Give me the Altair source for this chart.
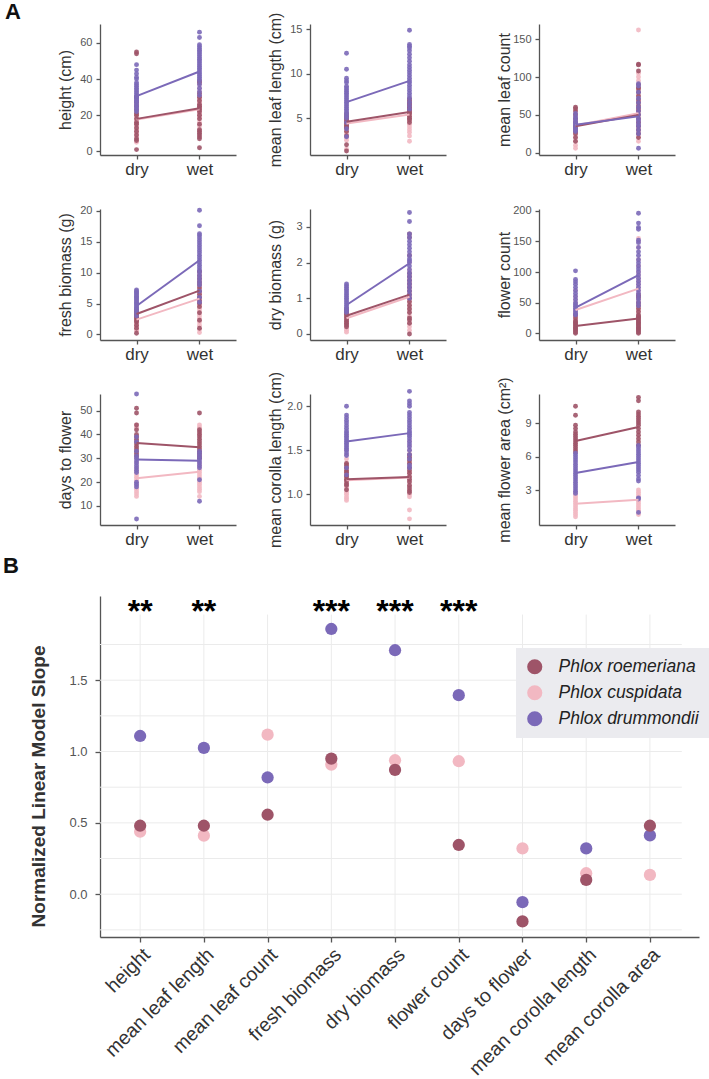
import altair as alt
import pandas as pd

SPECIES = ["Phlox roemeriana", "Phlox cuspidata", "Phlox drummondii"]
COLORS = ["#9e5468", "#f2b8c2", "#7b69b8"]
CONDITIONS = ["dry", "wet"]
POINT_Z = [1, 0, 2]

HEIGHT_ROE_DRY = [55, 54, 30, 27, 25, 23, 21, 20, 18, 16, 15, 13, 11, 9, 7, 6, 1]
HEIGHT_ROE_WET = [39, 38, 32, 30, 28, 26, 25, 24, 23, 22, 20, 18, 15, 12, 11, 10, 9, 8, 7, 2]
HEIGHT_CUS_DRY = [30, 28, 26, 24, 22, 20, 19, 18, 17, 16, 15, 14, 13, 12, 11, 10, 9, 8, 6, 5]
HEIGHT_CUS_WET = [37, 35, 33, 31, 30, 29, 28, 27, 26, 25, 24, 23, 22, 21, 20, 19, 18, 16, 14, 12]
HEIGHT_DRU_DRY = [48, 45, 43, 41, 40, 38, 37, 36, 35, 34, 33, 32, 31, 30, 30, 29, 28, 28, 27, 26, 25, 24, 23, 22]
HEIGHT_DRU_WET = [66, 63, 59, 58, 57, 56, 55, 54, 53, 52, 51, 50, 49, 48, 47, 46, 45, 44, 43, 42, 41, 40, 39, 37, 35, 33, 31]
HEIGHT_MEANS = [18.0, 23.9, 17.6, 23.3, 30.6, 44.2]

LEAFLEN_ROE_DRY = [5.5, 5.2, 5.0, 4.8, 4.6, 4.4, 4.2, 4.0, 3.9, 3.5, 3.0, 2.0, 1.3]
LEAFLEN_ROE_WET = [7.2, 7.0, 6.8, 6.6, 6.4, 6.2, 6.0, 5.8, 5.6, 5.5, 5.2, 5.0, 4.8, 4.5]
LEAFLEN_CUS_DRY = [5.3, 5.0, 4.8, 4.6, 4.5, 4.4, 4.3, 4.2, 4.0, 3.8, 3.5, 3.2, 2.8, 2.5, 1.5]
LEAFLEN_CUS_WET = [6.5, 6.2, 6.0, 5.8, 5.6, 5.4, 5.3, 5.2, 5.0, 4.8, 4.6, 4.3, 4.0, 3.7, 3.4, 3.0, 2.4]
LEAFLEN_DRU_DRY = [12.3, 10.5, 9.5, 9.2, 9.0, 8.6, 8.4, 8.2, 8.0, 7.8, 7.6, 7.4, 7.2, 7.0, 6.8, 6.6, 6.4, 6.2, 6.0, 5.8, 5.6, 5.4, 5.2, 5.0, 4.5, 3.8, 2.9]
LEAFLEN_DRU_WET = [14.9, 13.3, 13.1, 12.9, 12.6, 12.2, 11.8, 11.4, 11.0, 10.7, 10.4, 10.1, 9.8, 9.5, 9.2, 9.0, 8.7, 8.4, 8.1, 7.8, 7.5, 7.2, 6.8, 6.4, 6.0]
LEAFLEN_MEANS = [4.6, 5.7, 4.4, 5.4, 6.8, 9.2]

LEAFCNT_ROE_DRY = [60, 58, 55, 50, 45, 40, 35, 32, 28, 25, 20, 15]
LEAFCNT_ROE_WET = [117, 116, 108, 90, 86, 84, 80, 75, 70, 66, 62, 58, 55, 50, 45, 40, 35, 30, 25, 20]
LEAFCNT_CUS_DRY = [55, 50, 45, 42, 38, 35, 32, 30, 27, 24, 20, 15, 10, 6]
LEAFCNT_CUS_WET = [162, 105, 100, 95, 85, 75, 68, 60, 55, 50, 45, 40, 35, 30, 25, 20, 15]
LEAFCNT_DRU_DRY = [52, 48, 45, 42, 40, 38, 36, 34, 32, 30, 28]
LEAFCNT_DRU_WET = [91, 88, 80, 72, 66, 60, 55, 50, 45, 42, 38, 35, 30, 25, 6]
LEAFCNT_MEANS = [35, 50, 36, 52, 37, 48]

FRESH_ROE_DRY = [4.0, 3.7, 3.5, 3.2, 3.0, 2.7, 2.5, 2.2, 2.0, 1.5, 1.0, 0.2]
FRESH_ROE_WET = [10.2, 9.5, 9.0, 8.5, 8.0, 7.5, 7.0, 6.5, 6.0, 5.5, 5.0, 4.5, 3.5, 2.3, 1.0]
FRESH_CUS_DRY = [3.5, 3.2, 3.0, 2.8, 2.6, 2.4, 2.2, 2.0, 1.8, 1.6, 1.4, 1.2, 1.0, 0.8, 0.6]
FRESH_CUS_WET = [10.0, 9.0, 8.3, 7.6, 7.0, 6.5, 6.0, 5.6, 5.2, 4.8, 4.4, 4.0, 3.5, 3.0, 2.5, 2.0, 1.5, 0.8, 0.3]
FRESH_DRU_DRY = [7.2, 7.0, 6.8, 6.6, 6.4, 6.2, 6.0, 5.8, 5.6, 5.4, 5.2, 5.0, 4.8, 4.6, 4.4, 4.2, 4.0, 3.7, 3.4, 3.0]
FRESH_DRU_WET = [20.1, 17.6, 16.3, 16.0, 15.6, 15.2, 14.8, 14.4, 14.0, 13.6, 13.2, 12.8, 12.4, 12.0, 11.6, 11.2, 10.8, 10.4, 10.0, 9.5, 9.0, 8.5, 8.0, 7.0, 6.0, 5.2]
FRESH_MEANS = [3.3, 7.1, 2.4, 5.8, 4.6, 12.0]

DRYB_ROE_DRY = [0.7, 0.65, 0.6, 0.55, 0.5, 0.45, 0.4, 0.35, 0.3, 0.25, 0.2]
DRYB_ROE_WET = [2.8, 2.7, 2.2, 1.7, 1.6, 1.5, 1.4, 1.3, 1.2, 1.1, 1.0, 0.9, 0.8, 0.7, 0.6, 0.45, 0.4, 0.3, 0.0]
DRYB_CUS_DRY = [0.65, 0.6, 0.55, 0.5, 0.45, 0.4, 0.35, 0.3, 0.25, 0.2, 0.15, 0.1, 0.05]
DRYB_CUS_WET = [2.0, 1.8, 1.6, 1.5, 1.4, 1.3, 1.2, 1.1, 1.0, 0.9, 0.8, 0.7, 0.6, 0.5, 0.4, 0.3, 0.2, 0.1]
DRYB_DRU_DRY = [1.4, 1.35, 1.3, 1.25, 1.2, 1.15, 1.1, 1.05, 1.0, 0.95, 0.9, 0.85, 0.8, 0.75, 0.7, 0.65, 0.6]
DRYB_DRU_WET = [3.4, 3.15, 2.8, 2.7, 2.6, 2.5, 2.4, 2.3, 2.2, 2.1, 2.05, 2.0, 1.9, 1.8, 1.7, 1.6, 1.5, 1.4, 1.3, 1.2, 1.1, 1.0]
DRYB_MEANS = [0.51, 1.10, 0.44, 1.04, 0.81, 1.98]

FLOWER_ROE_DRY = [30, 25, 20, 18, 16, 14, 12, 10, 8, 6, 4, 2, 0]
FLOWER_ROE_WET = [62, 58, 50, 45, 40, 35, 30, 28, 26, 24, 22, 20, 18, 16, 14, 12, 10, 8, 6, 4, 2, 0]
FLOWER_CUS_DRY = [70, 60, 55, 50, 45, 40, 38, 35, 32, 30, 28, 25, 22, 20]
FLOWER_CUS_WET = [155, 150, 140, 120, 110, 100, 95, 90, 85, 80, 75, 70, 65, 60, 55, 50, 45, 40, 35]
FLOWER_DRU_DRY = [102, 88, 84, 80, 75, 70, 65, 60, 55, 50, 47, 44, 41, 38, 35, 32, 30]
FLOWER_DRU_WET = [196, 180, 173, 170, 152, 148, 140, 133, 127, 120, 115, 110, 105, 100, 95, 90, 85, 80, 75, 70, 65, 60, 55, 50, 45]
FLOWER_MEANS = [12, 24, 38, 73, 42, 95]

DAYS_ROE_DRY = [51, 49, 44, 42, 40, 39, 38, 37, 36, 35, 34, 33, 32, 31]
DAYS_ROE_WET = [49, 42, 41, 40, 39, 38, 37, 36, 35, 34, 33, 32, 31, 30]
DAYS_CUS_DRY = [44, 43, 30, 28, 26, 25, 24, 23, 22, 21, 20, 19, 18, 17, 16, 15, 14]
DAYS_CUS_WET = [44, 43, 42, 40, 30, 28, 27, 26, 25, 24, 23, 22, 21, 20, 19, 18, 17, 16, 14]
DAYS_DRU_DRY = [57, 39, 37, 33, 31, 30, 29, 28, 27, 26, 25, 24, 20, 19, 18, 4.5]
DAYS_DRU_WET = [33, 32, 31, 30, 29, 28, 27, 26, 21, 12]
DAYS_MEANS = [36.4, 34.6, 21.6, 24.4, 29.5, 29.0]

COROLLA_ROE_DRY = [1.35, 1.33, 1.3, 1.27, 1.25, 1.22, 1.2, 1.17, 1.15, 1.12, 1.1, 1.05]
COROLLA_ROE_WET = [1.45, 1.42, 1.38, 1.35, 1.3, 1.27, 1.24, 1.2, 1.17, 1.14, 1.1, 1.07, 1.04, 1.02]
COROLLA_CUS_DRY = [1.5, 1.45, 1.4, 1.35, 1.3, 1.25, 1.2, 1.17, 1.15, 1.12, 1.1, 1.07, 1.05, 1.02, 1.0, 0.97, 0.95, 0.93]
COROLLA_CUS_WET = [1.6, 1.55, 1.5, 1.45, 1.4, 1.35, 1.3, 1.25, 1.2, 1.15, 1.1, 1.05, 1.0, 0.97, 0.82, 0.72]
COROLLA_DRU_DRY = [2.0, 1.9, 1.87, 1.84, 1.81, 1.78, 1.75, 1.72, 1.7, 1.68, 1.66, 1.64, 1.62, 1.6, 1.58, 1.56, 1.54, 1.52, 1.5, 1.47, 1.44, 1.3, 1.22]
COROLLA_DRU_WET = [2.17, 2.06, 2.03, 2.0, 1.93, 1.9, 1.87, 1.84, 1.81, 1.78, 1.75, 1.72, 1.7, 1.68, 1.66, 1.63, 1.6, 1.57, 1.54, 1.5, 1.45, 1.4, 1.33, 1.3]
COROLLA_MEANS = [1.17, 1.195, 1.16, 1.19, 1.60, 1.695]

AREA_ROE_DRY = [10.5, 9.7, 8.8, 8.5, 8.2, 8.0, 7.8, 7.6, 7.4, 7.2, 7.0, 6.8, 6.6, 6.4]
AREA_ROE_WET = [11.3, 11.0, 10.0, 9.8, 9.6, 9.4, 9.2, 9.0, 8.8, 8.5, 8.2, 7.9, 7.6, 7.3, 7.0]
AREA_CUS_DRY = [2.8, 2.6, 2.4, 2.2, 2.0, 1.8, 1.6, 1.4, 1.2, 1.0, 0.8, 0.6]
AREA_CUS_WET = [3.0, 2.8, 2.6, 2.4, 2.2, 2.0, 1.8, 1.6, 1.4, 1.2, 1.0, 0.8]
AREA_DRU_DRY = [6.3, 6.1, 5.9, 5.7, 5.5, 5.3, 5.1, 4.9, 4.7, 4.5, 4.3, 4.1, 3.9, 3.7, 3.5, 3.3, 3.1, 2.9, 2.7]
AREA_DRU_WET = [7.0, 6.8, 6.6, 6.4, 6.2, 6.0, 5.8, 5.6, 5.4, 5.2, 5.0, 4.8, 4.6, 4.3, 4.0, 3.8, 2.3, 2.2, 1.0]
AREA_MEANS = [7.39, 8.64, 1.77, 2.12, 4.52, 5.51]

PANEL_TITLES = ["height (cm)", "mean leaf length (cm)", "mean leaf count",
                "fresh biomass (g)", "dry biomass (g)", "flower count",
                "days to flower", "mean corolla length (cm)", "mean flower area (cm²)"]
PANEL_DOMAINS = [[-2, 70.5], [0.85, 15.6], [-3, 170], [-0.9, 20.3], [-0.17, 3.5],
                 [-11, 203], [2, 57], [0.65, 2.14], [-0.13, 11.6]]
PANEL_TICKS = [[0, 20, 40, 60], [5, 10, 15], [0, 50, 100, 150], [0, 5, 10, 15, 20], [0, 1, 2, 3],
               [0, 50, 100, 150, 200], [10, 20, 30, 40, 50], [1.0, 1.5, 2.0], [3, 6, 9]]
PANEL_FORMATS = ["d", "d", "d", "d", "d", "d", "d", ".1f", "d"]
PANEL_LISTS = [
    [HEIGHT_ROE_DRY, HEIGHT_ROE_WET, HEIGHT_CUS_DRY, HEIGHT_CUS_WET, HEIGHT_DRU_DRY, HEIGHT_DRU_WET],
    [LEAFLEN_ROE_DRY, LEAFLEN_ROE_WET, LEAFLEN_CUS_DRY, LEAFLEN_CUS_WET, LEAFLEN_DRU_DRY, LEAFLEN_DRU_WET],
    [LEAFCNT_ROE_DRY, LEAFCNT_ROE_WET, LEAFCNT_CUS_DRY, LEAFCNT_CUS_WET, LEAFCNT_DRU_DRY, LEAFCNT_DRU_WET],
    [FRESH_ROE_DRY, FRESH_ROE_WET, FRESH_CUS_DRY, FRESH_CUS_WET, FRESH_DRU_DRY, FRESH_DRU_WET],
    [DRYB_ROE_DRY, DRYB_ROE_WET, DRYB_CUS_DRY, DRYB_CUS_WET, DRYB_DRU_DRY, DRYB_DRU_WET],
    [FLOWER_ROE_DRY, FLOWER_ROE_WET, FLOWER_CUS_DRY, FLOWER_CUS_WET, FLOWER_DRU_DRY, FLOWER_DRU_WET],
    [DAYS_ROE_DRY, DAYS_ROE_WET, DAYS_CUS_DRY, DAYS_CUS_WET, DAYS_DRU_DRY, DAYS_DRU_WET],
    [COROLLA_ROE_DRY, COROLLA_ROE_WET, COROLLA_CUS_DRY, COROLLA_CUS_WET, COROLLA_DRU_DRY, COROLLA_DRU_WET],
    [AREA_ROE_DRY, AREA_ROE_WET, AREA_CUS_DRY, AREA_CUS_WET, AREA_DRU_DRY, AREA_DRU_WET],
]
PANEL_MEANS = [HEIGHT_MEANS, LEAFLEN_MEANS, LEAFCNT_MEANS, FRESH_MEANS, DRYB_MEANS,
               FLOWER_MEANS, DAYS_MEANS, COROLLA_MEANS, AREA_MEANS]

# ---------------- Panel B ----------------
CATEGORIES = ["height", "mean leaf length", "mean leaf count", "fresh biomass", "dry biomass",
              "flower count", "days to flower", "mean corolla length", "mean corolla area"]
SLOPE_ROE = [0.48, 0.48, 0.557, 0.950, 0.871, 0.345, -0.191, 0.100, 0.480]
SLOPE_CUS = [0.438, 0.410, 1.118, 0.908, 0.939, 0.932, 0.321, 0.147, 0.135]
SLOPE_DRU = [1.109, 1.025, 0.818, 1.859, 1.710, 1.395, -0.056, 0.321, 0.412]
SIGNIF = ["**", "**", "", "***", "***", "***", "", "", ""]
STAR_LEVEL = 1.98
HGRID = [-0.25, 0.0, 0.25, 0.5, 0.75, 1.0, 1.25, 1.5, 1.75]
B_XDOMAIN = [-0.63, 8.77]
B_YDOMAIN = [-0.3, 2.09]
GRID_RIGHT = 8.5
GRID_TOP = 1.96

PW, PH = 136, 131
ONE = pd.DataFrame({"t": ["A"]})
color_scale = alt.Scale(domain=SPECIES, range=COLORS)


def helper_marks(top, bottom, left, letter=None, letter_y=0):
    layers = [
        alt.Chart(ONE).mark_square(size=1, opacity=0).encode(x=alt.value(left), y=alt.value(top)),
        alt.Chart(ONE).mark_square(size=1, opacity=0).encode(x=alt.value(left), y=alt.value(bottom)),
    ]
    if letter:
        layers.append(
            alt.Chart(pd.DataFrame({"t": [letter]})).mark_text(
                fontSize=22, fontWeight="bold", align="left", baseline="top", color="#111"
            ).encode(text="t:N", x=alt.value(left + 2), y=alt.value(letter_y))
        )
    return layers


def small_panel(i, width, first=False, letter=None):
    lists = PANEL_LISTS[i]
    rows = []
    for si, sp in enumerate(SPECIES):
        for ci, cond in enumerate(CONDITIONS):
            for v in lists[si * 2 + ci]:
                rows.append({"species": sp, "condition": cond, "value": v, "z": POINT_Z[si]})
    pts = pd.DataFrame(rows)
    means = PANEL_MEANS[i]

    x = alt.X("condition:N",
              scale=alt.Scale(type="point", domain=CONDITIONS, range=[0, PW], padding=0.58),
              axis=alt.Axis(title=None, labelAngle=0, labelFontSize=17, labelColor="#333",
                            labelPadding=2, tickSize=4, grid=False))
    y = alt.Y("value:Q",
              scale=alt.Scale(domain=PANEL_DOMAINS[i], nice=False, zero=False),
              axis=alt.Axis(values=PANEL_TICKS[i], format=PANEL_FORMATS[i], title=PANEL_TITLES[i],
                            titleFontSize=16, titleFontWeight="normal", titleColor="#333",
                            titleX=-35, titleY=PH / 2, titleAngle=270, titleAlign="center",
                            titleBaseline="middle", labelFontSize=11, labelColor="#555",
                            labelPadding=4, tickSize=4, grid=False))

    layers = [
        alt.Chart(pts).mark_circle(size=24, opacity=0.9).encode(
            x=x, y=y,
            color=alt.Color("species:N", scale=color_scale, legend=None),
            order=alt.Order("z:Q"),
        )
    ]
    for si in [1, 0, 2]:
        mdf = pd.DataFrame({"condition": CONDITIONS, "value": means[si * 2: si * 2 + 2]})
        layers.append(alt.Chart(mdf).mark_line(strokeWidth=2, color=COLORS[si]).encode(x=x, y=y))
    if first:
        layers += helper_marks(-23, PH + 29, -97, letter, -22)
    return alt.layer(*layers).properties(width=width, height=PH)


rows = []
for r in range(3):
    p1 = small_panel(3 * r, PW, first=True, letter="A" if r == 0 else None)
    p2 = small_panel(3 * r + 1, 155)
    p3 = small_panel(3 * r + 2, 137)
    rows.append(alt.hconcat(p1, p2, p3, spacing=74, bounds="flush"))

# ---------------- Panel B chart ----------------
brows = []
for si, (sp, vals) in enumerate(zip(SPECIES, [SLOPE_ROE, SLOPE_CUS, SLOPE_DRU])):
    for k, v in enumerate(vals):
        brows.append({"idx": k, "slope": v, "species": sp, "z": [2, 0, 1][si]})
bdf = pd.DataFrame(brows)

label_expr = "[" + ",".join("'" + c + "'" for c in CATEGORIES) + "][datum.value]"
xB = alt.X("idx:Q", scale=alt.Scale(domain=B_XDOMAIN, nice=False, zero=False),
           axis=alt.Axis(values=list(range(len(CATEGORIES))), labelExpr=label_expr, labelAngle=315,
                         labelAlign="right", labelBaseline="top", labelFontSize=19.5, labelColor="#333",
                         labelPadding=3, tickSize=5, title=None, grid=False, labelLimit=300,
                         labelOverlap=False, labelBound=False))
yB = alt.Y("slope:Q", scale=alt.Scale(domain=B_YDOMAIN, nice=False, zero=False),
           axis=alt.Axis(values=[0, 0.5, 1.0, 1.5], format=".1f", title="Normalized Linear Model Slope",
                         titleFontSize=19, titleFontWeight="bold", titleColor="#333",
                         titleX=-62, titleY=190, titleAngle=270, titleAlign="center",
                         titleBaseline="middle", labelFontSize=13, labelColor="#555",
                         labelPadding=8, tickSize=5, grid=False))

hgrid = pd.DataFrame({"idx": [B_XDOMAIN[0]] * len(HGRID), "idx2": [GRID_RIGHT] * len(HGRID), "slope": HGRID})
vgrid = pd.DataFrame({"idx": list(range(len(CATEGORIES))), "slope": [B_YDOMAIN[0]] * len(CATEGORIES),
                      "slope2": [GRID_TOP] * len(CATEGORIES)})
stars = pd.DataFrame({"idx": list(range(len(CATEGORIES))), "sig": SIGNIF,
                      "slope": [STAR_LEVEL] * len(CATEGORIES)})
stars = stars[stars["sig"] != ""]

b_layers = [
    alt.Chart(hgrid).mark_rule(color="#ebebeb", strokeWidth=1).encode(x=xB, x2="idx2:Q", y=yB),
    alt.Chart(vgrid).mark_rule(color="#ebebeb", strokeWidth=1).encode(x=xB, y=yB, y2="slope2:Q"),
    alt.Chart(stars).mark_text(fontSize=32, fontWeight="bold", color="#000", baseline="middle").encode(
        x=xB, y=yB, text="sig:N"),
    alt.Chart(bdf).mark_circle(size=150, opacity=1).encode(
        x=xB, y=yB,
        color=alt.Color("species:N", scale=color_scale,
                        legend=alt.Legend(title=None, orient="none", legendX=416, legendY=52,
                                          fillColor="#ebebef", padding=10, symbolType="circle",
                                          symbolSize=230, symbolStrokeWidth=0, symbolOpacity=1,
                                          labelFontSize=17.5, labelFontStyle="italic", labelColor="#222",
                                          labelOffset=15, rowPadding=7, direction="vertical",
                                          labelLimit=300)),
        order=alt.Order("z:Q"),
    ),
] + helper_marks(-40, 340, -99, "B", -40)

panelB = alt.layer(*b_layers).properties(width=599, height=341)

chart = alt.vconcat(*rows, panelB, spacing=0).resolve_scale(color="independent").properties(
    padding=0, background="white"
).configure(font="Liberation Sans").configure_view(stroke=None).configure_axis(
    domainColor="#555", tickColor="#555", domainWidth=1.3, tickWidth=1.3
)

chart.save("out.html", embed_options={"renderer": "svg", "actions": False})
